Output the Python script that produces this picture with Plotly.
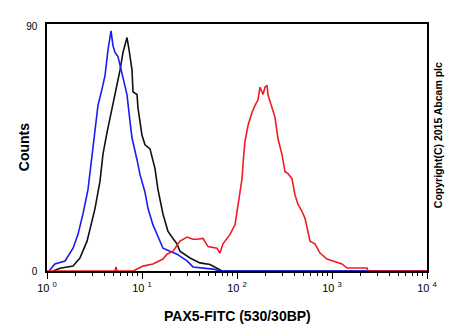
import plotly.graph_objects as go

# Fluorescence intensity (PAX5-FITC) and event counts for each histogram
blue_x = [1.05, 1.21, 1.55, 1.88, 2.12, 2.39, 2.70, 2.98, 3.20, 3.44, 3.79, 4.08, 4.39, 4.72,
          4.95, 5.20, 5.59, 6.16, 6.95, 7.48, 7.85, 8.86, 9.53, 10.76, 11.57, 13.05, 14.38,
          16.63, 19.71, 23.36, 29.8, 34.4, 55.9, 66.2, 10000]
blue_y = [0, 2.6, 3.7, 8.4, 13.5, 21, 30, 43, 51, 61, 67, 72, 81.6, 88.5,
          83, 80.5, 79, 73, 65, 55, 49, 41, 35.5, 29, 23, 17, 13.5,
          8.4, 7.3, 6.2, 3.7, 1.5, 0.7, 0, 0]

black_x = [1.16, 1.37, 1.88, 2.22, 2.64, 2.84, 3.20, 3.61, 3.88, 4.28, 4.83, 5.46, 5.87, 6.31,
           6.62, 6.95, 7.30, 7.85, 8.04, 8.86, 9.08, 10.0, 10.76, 12.14, 13.70, 14.73, 16.63,
           18.78, 21.19, 23.36, 25.1, 32.0, 40.8, 52.0, 61.5, 69.5, 10000]
black_y = [0, 1, 1.8, 4.8, 11, 15.7, 23, 33, 43, 51, 60, 68, 74, 80.5,
           83, 86, 81.6, 74, 66, 65, 60, 50, 46.5, 45, 37.7, 30, 21,
           14.6, 12, 10, 7.3, 4.8, 3, 2.4, 1, 0, 0]

red_x = [1.0, 5.2, 5.33, 5.46, 8.04, 10.25, 13.05, 16.63, 18.33, 21.19, 25.1, 29.8, 34.4, 37.9,
         43.9, 49.5, 61.5, 66.2, 71.2, 84.4, 95.3, 102.5, 113, 116, 121, 131, 144, 155,
         166, 175, 188, 197, 207, 212, 234, 251, 270, 298, 320, 344, 379, 408, 439, 483,
         520, 587, 662, 748, 885, 1025, 1214, 1274, 1438, 2335, 2393, 10000]
red_y = [0, 0, 1.5, 0, 0, 1.8, 2.6, 4.4, 6.2, 7.3, 11, 12.5, 11.7, 11.7,
         12, 9, 8.4, 6.6, 10, 13.5, 17, 24.5, 34, 40, 47.5, 53.8, 58.5, 61,
         63, 67.7, 65, 67.7, 68.4, 64.8, 59.6, 56.7, 48.7, 42.8, 36.6, 35.9, 34, 28, 24.5, 22,
         19.4, 11, 10, 6.6, 4.4, 3.7, 3, 2.6, 1.1, 1.1, 0, 0]

decades = [1, 10, 100, 1000, 10000]
decade_labels = ["10&nbsp;<sup>0</sup>", "10&nbsp;<sup>1</sup>", "10&nbsp;<sup>2</sup>",
                 "10&nbsp;<sup>3</sup>", "10&nbsp;<sup>4</sup>"]
minor_vals = [m * d for d in decades[:-1] for m in range(2, 10)]

fig = go.Figure()
fig.add_trace(go.Scatter(x=black_x, y=black_y, mode="lines",
                         line=dict(color="#111111", width=1.6)))
fig.add_trace(go.Scatter(x=blue_x, y=blue_y, mode="lines",
                         line=dict(color="#1c1cf0", width=1.6)))
fig.add_trace(go.Scatter(x=red_x, y=red_y, mode="lines",
                         line=dict(color="#ee1c25", width=1.6)))

fig.update_layout(
    width=450, height=330,
    margin=dict(l=47, r=23, t=24, b=59),
    paper_bgcolor="white", plot_bgcolor="white",
    showlegend=False,
    font=dict(family="Liberation Sans, Arial, sans-serif", color="black", size=11),
    xaxis=dict(
        type="log", range=[0, 4],
        tickmode="array", tickvals=decades, ticktext=decade_labels,
        ticks="outside", ticklen=6, tickwidth=1, tickcolor="black",
        minor=dict(tickmode="array", tickvals=minor_vals, ticks="outside",
                   ticklen=3, tickwidth=1, tickcolor="black", showgrid=False),
        showgrid=False, zeroline=False,
        showline=True, linecolor="black", linewidth=1.5, mirror=True,
        tickfont=dict(size=11),
    ),
    yaxis=dict(
        range=[0, 91],
        tickmode="array", tickvals=[0, 90], ticktext=["0", "90"],
        ticks="", ticklabelstandoff=6,
        showgrid=False, zeroline=False,
        showline=True, linecolor="black", linewidth=1.5, mirror=True,
        tickfont=dict(size=10),
    ),
    annotations=[
        dict(text="<b>PAX5-FITC (530/30BP)</b>", xref="paper", yref="paper",
             x=0.5, y=-0.14, xanchor="center", yanchor="top",
             showarrow=False, font=dict(size=14)),
        dict(text="<b>Counts</b>", xref="paper", yref="paper",
             x=-0.035, y=0.5, xanchor="right", yanchor="middle", textangle=-90,
             showarrow=False, font=dict(size=14)),
        dict(text="<b>Copyright(C) 2015 Abcam plc</b>", xref="paper", yref="paper",
             x=1.008, y=0.55, xanchor="left", yanchor="middle", textangle=-90,
             showarrow=False, font=dict(size=10.5)),
    ],
)

fig.write_html("out.html")
